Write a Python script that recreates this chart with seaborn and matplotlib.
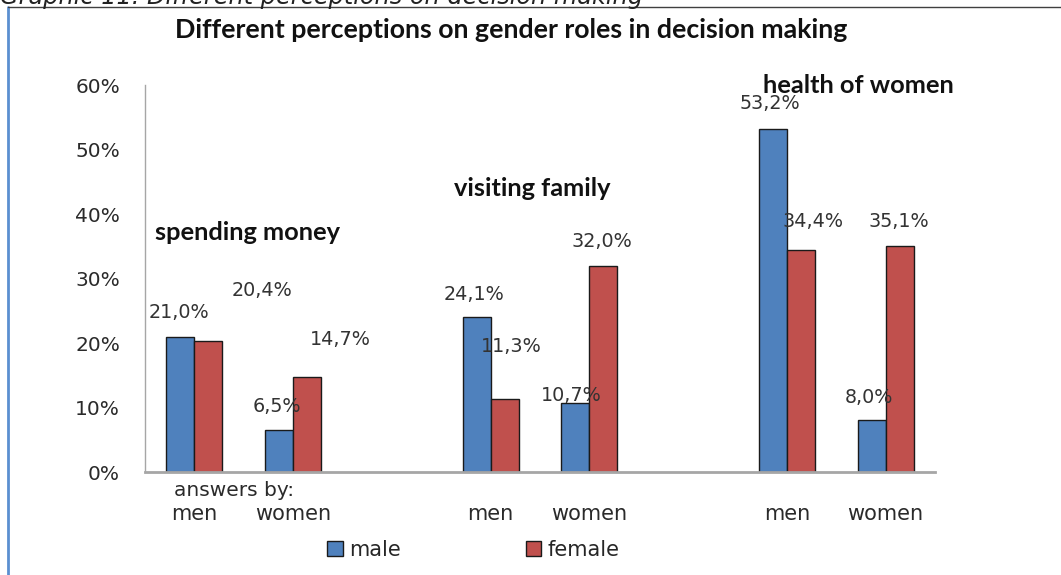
import pandas as pd
import matplotlib.pyplot as plt
import seaborn as sns
from matplotlib.lines import Line2D

# Data (percent)
topics = ['spending money', 'spending money', 'visiting family', 'visiting family',
          'health of women', 'health of women']
answers_by = ['men', 'women', 'men', 'women', 'men', 'women']
male = [21.0, 6.5, 24.1, 10.7, 53.2, 8.0]
female = [20.4, 14.7, 11.3, 32.0, 34.4, 35.1]

# slot order on the x axis, with two empty slots between the topics
slots = ['sm_men', 'sm_women', 'gap1', 'vf_men', 'vf_women', 'gap2', 'hw_men', 'hw_women']
slot_labels = ['men', 'women', '', 'men', 'women', '', 'men', 'women']
data_slots = ['sm_men', 'sm_women', 'vf_men', 'vf_women', 'hw_men', 'hw_women']

rows = []
for s, v in zip(data_slots, male):
    rows.append({'slot': s, 'sex': 'male', 'value': v})
for s, v in zip(data_slots, female):
    rows.append({'slot': s, 'sex': 'female', 'value': v})
df = pd.DataFrame(rows)

sns.set_style('white')
plt.rcParams['font.family'] = ['DejaVu Sans']

fig = plt.figure(figsize=(10.61, 5.75), dpi=100)
ax = fig.add_axes([0.1367, 0.179, 0.7445, 0.673])

sns.barplot(data=df, x='slot', y='value', hue='sex', order=slots,
            hue_order=['male', 'female'], palette=['#4F81BD', '#C0504D'],
            width=0.567, gap=0, edgecolor='#1a1a1a', linewidth=1.0,
            saturation=1, ax=ax)

ax.set_ylim(0, 60)
ax.set_xlim(-0.5, 7.5)
ax.set_yticks(range(0, 61, 10))
ax.set_yticklabels([f'{t}%' for t in range(0, 61, 10)], fontsize=14.5, color='#2a2a2a')
ax.set_xticks(range(len(slots)))
ax.set_xticklabels(slot_labels, fontsize=15, color='#2a2a2a')
ax.tick_params(axis='x', length=0, pad=23)
ax.tick_params(axis='y', length=0, pad=18)
ax.set_xlabel('')
ax.set_ylabel('')
for side in ['top', 'right']:
    ax.spines[side].set_visible(False)
ax.spines['left'].set_color('#A6A6A6')
ax.spines['left'].set_linewidth(1.0)
ax.spines['bottom'].set_color('#A6A6A6')
ax.spines['bottom'].set_linewidth(2.0)

# data labels, placed by hand in the original chart (offsets from bar tops)
male_off = [(-0.01, 3.8), (-0.02, 3.6), (-0.03, 3.5), (-0.04, 1.2), (-0.03, 3.9), (-0.03, 3.5)]
female_off = [(0.54, 7.8), (0.34, 5.8), (0.07, 8.1), (-0.01, 3.7), (0.12, 4.4), (-0.01, 3.7)]
bars_m = [p for p in ax.containers[0] if p.get_height() > 0]
bars_f = [p for p in ax.containers[1] if p.get_height() > 0]
for bars, offs in [(bars_m, male_off), (bars_f, female_off)]:
    for p, (dx, dy) in zip(bars, offs):
        xc = p.get_x() + p.get_width() / 2
        h = p.get_height()
        ax.text(xc + dx, h + dy, f'{h:.1f}%'.replace('.', ','), ha='center', va='center',
                fontsize=13.8, color='#333333')

# topic headers
hfont = dict(family='Lato', fontweight='bold', fontsize=18.3, color='#111111', va='center')
ax.text(-0.4, 37.2, 'spending money', ha='left', **hfont)
ax.text(3.42, 44.0, 'visiting family', ha='center', **hfont)
ax.text(6.72, 60.0, 'health of women', ha='center', **hfont)

ax.text(0.40, -0.047, 'answers by:', transform=ax.get_xaxis_transform(),
        ha='center', va='center', fontsize=14.5, color='#2a2a2a')

ax.get_legend().remove()
handles, labels = ax.get_legend_handles_labels()
fig.legend(handles, labels, loc='center', bbox_to_anchor=(0.446, 0.0435), ncol=2,
           frameon=False, fontsize=15, handlelength=0.75, handleheight=0.75,
           handletextpad=0.3, columnspacing=6.0)

fig.text(0.482, 1 - 30 / 575, 'Different perceptions on gender roles in decision making',
         ha='center', va='center', family='Lato', fontweight='bold', fontsize=19.3,
         color='#111111')

# caption of the source document, cut off at the top edge
fig.text(0.0, 1 - 4 / 575, 'Graphic 11. Different perceptions on decision making',
         ha='left', va='baseline', fontsize=17.3, style='italic', color='#222222')

# frame lines of the pasted chart
fig.add_artist(Line2D([8 / 1061, 8 / 1061], [0, 1 - 7 / 575], color='#5B8FD0', lw=2))
fig.add_artist(Line2D([8 / 1061, 1], [1 - 7 / 575, 1 - 7 / 575], color='#404040', lw=1))

fig.savefig('out.png', dpi=100)
